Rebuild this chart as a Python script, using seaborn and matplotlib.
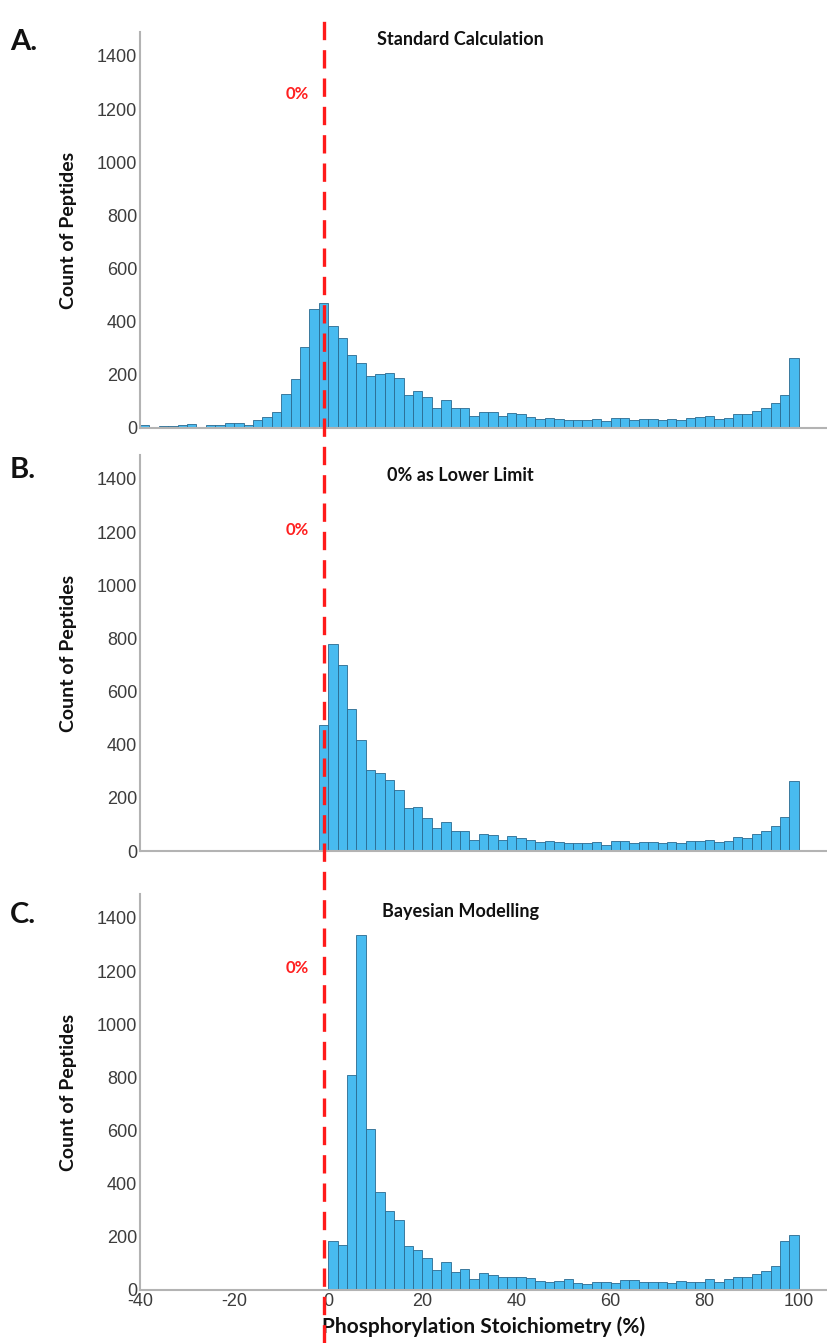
import numpy as np
import pandas as pd
import matplotlib
matplotlib.use("Agg")
import matplotlib.pyplot as plt
import seaborn as sns
from matplotlib.lines import Line2D

# ---------------- data (counts per 2% bin) ----------------
# A: bins from -40 to 100
counts_a = [10, 5, 6, 9, 11, 14, 4, 11, 10, 18, 18, 11, 30, 43, 61, 128, 186, 303, 448, 470,
            383, 338, 273, 243, 196, 204, 208, 188, 123, 138, 116, 76, 106, 74,
            74, 44, 62, 62, 44, 56, 51, 40, 34, 38, 35, 30, 30, 30, 34, 25, 39, 39, 30, 35,
            35, 30, 35, 30, 38, 41, 44, 35, 39, 54, 51, 65, 75, 94, 126, 262]
# B: bins from -2 to 100
counts_b = [475,
            778, 700, 536, 419, 305, 294, 267, 231, 163, 165, 124, 87, 110, 77, 76, 42, 64, 62,
            42, 55, 50, 40, 34, 37,
            33, 30, 30, 30, 33, 24, 38, 38, 30, 33, 33, 30, 33, 30, 37, 39, 42, 34, 37, 54,
            50, 64, 74, 95, 127, 262]
# C: bins from 0 to 100
counts_c = [185, 170, 810, 1335, 605, 368, 296, 262, 164, 151, 120, 76, 106, 69, 78, 42, 63,
            57, 50, 48, 50, 44, 33, 29, 34,
            40, 28, 23, 30, 30, 25, 38, 38, 30, 30, 30, 28, 35, 30, 30, 43, 29, 42, 50, 50,
            62, 73, 91, 183, 207]
start_a, start_b, start_c = -40, -2, 0
bin_width = 2

panel_letters = ["A.", "B.", "C."]
panel_titles = ["Standard Calculation", "0% as Lower Limit", "Bayesian Modelling"]
yticks = [0, 200, 400, 600, 800, 1000, 1200, 1400]
xticks = [-40, -20, 0, 20, 40, 60, 80, 100]
zero_line = -1

bar_color = "#48BBF0"
edge_color = "#2a6a90"
spine_color = "#b3b3b3"
tick_color = "#3c3c3c"

sns.set_theme(style="white")
plt.rcParams['font.family'] = ['Liberation Sans', 'DejaVu Sans']
plt.rcParams['axes.unicode_minus'] = False
bold_font = ['Lato', 'Open Sans', 'DejaVu Sans']

W, H = 828, 1343
fig = plt.figure(figsize=(W / 100, H / 100), dpi=100)

# axes rects in pixels: (baseline y, top y)
rows = [(428, 32), (851, 455), (1290, 894)]
left_px = 140
ymax = 1490

datasets = [(counts_a, start_a), (counts_b, start_b), (counts_c, start_c)]
title_y = [1462, 1411, 1423]
pct_y = [1255, 1207, 1210]
letter_y = [42, 470, 915]

axes = []
for i, ((counts, start), (base, top)) in enumerate(zip(datasets, rows)):
    ax = fig.add_axes([left_px / W, 1 - base / H, 1 - left_px / W, (base - top) / H])
    edges = [start + bin_width * k for k in range(len(counts) + 1)]
    df = pd.DataFrame({"stoich": [e + bin_width / 2 for e in edges[:-1]], "count": counts})
    sns.histplot(data=df, x="stoich", weights="count", bins=edges, color=bar_color,
                 edgecolor=edge_color, linewidth=0.6, alpha=1, ax=ax)
    ax.set_xlim(-40, 106.2)
    ax.set_ylim(0, ymax)
    ax.set_yticks(yticks)
    ax.set_xticks(xticks)
    for s in ["top", "right"]:
        ax.spines[s].set_visible(False)
    for s in ["left", "bottom"]:
        ax.spines[s].set_color(spine_color)
        ax.spines[s].set_linewidth(1.5)
    ax.tick_params(axis="both", length=0, labelsize=13, labelcolor=tick_color, pad=2)
    if i < 2:
        ax.set_xticklabels([])
        ax.set_xlabel("")
    else:
        ax.set_xlabel("Phosphorylation Stoichiometry (%)", fontsize=15, fontweight="bold",
                      family=bold_font, color="#111111", labelpad=5)
    ax.set_ylabel("Count of Peptides", fontsize=14, fontweight="bold", family=bold_font,
                  color="#111111", labelpad=14)
    ax.text(28, title_y[i], panel_titles[i], ha="center", va="center", fontsize=13,
            fontweight="bold", family=bold_font, color="#111111")
    ax.text(-6.5, pct_y[i], "0%", ha="center", va="center", fontsize=12,
            fontweight="bold", family=bold_font, color="#ff2020")
    fig.text(0.012, 1 - letter_y[i] / H, panel_letters[i], ha="left", va="center",
             fontsize=21, fontweight="bold", family=bold_font, color="#111111")
    axes.append(ax)

# red dashed 0% line across all panels
fig.canvas.draw()
xpix = axes[0].transData.transform((zero_line, 0))[0]
xf = fig.transFigure.inverted().transform((xpix, 0))[0]
fig.add_artist(Line2D([xf, xf], [0, 1 - 12 / H], transform=fig.transFigure,
                      color="#ff1a1a", linewidth=2.4, linestyle=(0, (5.5, 3)), zorder=10))

fig.savefig("out.png", dpi=100)
